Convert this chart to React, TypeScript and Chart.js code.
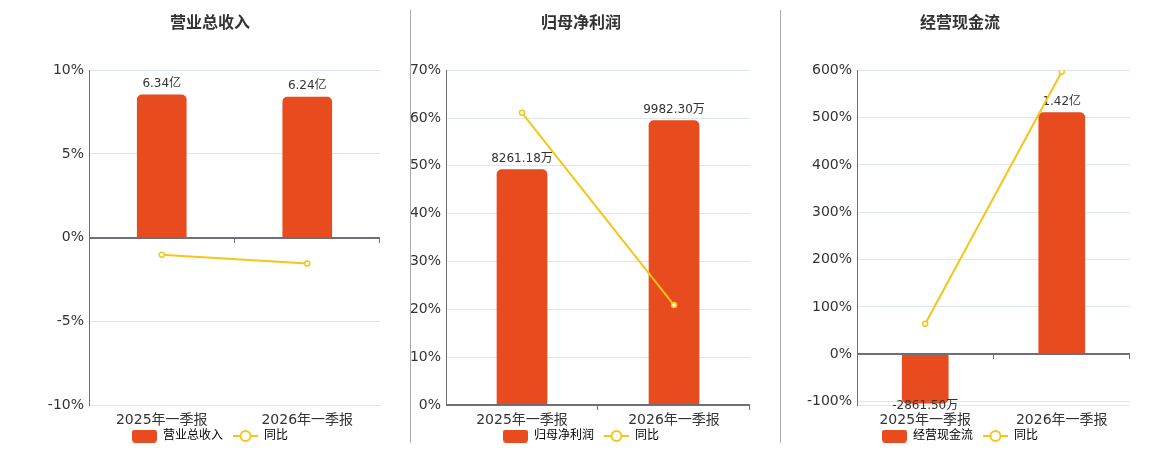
import React, { useEffect, useRef } from 'react';
import { Chart, registerables } from 'chart.js';

Chart.register(...registerables);

const FONT = '"DejaVu Sans", "Noto Sans CJK SC", sans-serif';
Chart.defaults.font.family = FONT;

// 报告期
const categories = ['2025年一季报', '2026年一季报'];

// 营业总收入 (万元) / 同比 (%)
const revenueValues = [63400, 62400];
const revenueYoY = [-1.03, -1.55];
const revenueTicks = [-10, -5, 0, 5, 10];

// 归母净利润 (万元) / 同比 (%)
const profitValues = [8261.18, 9982.3];
const profitYoY = [61.1, 20.9];
const profitTicks = [0, 10, 20, 30, 40, 50, 60, 70];

// 经营现金流 (万元) / 同比 (%)
const cashValues = [-2861.5, 14200];
const cashYoY = [64.7, 596.6];
const cashTicks = [-100, 0, 100, 200, 300, 400, 500, 600];

const BAR = '#E84B1E';
const LINE = '#F5C518';
const GRID = '#E0E6F1';
const AXIS = '#6E7079';
const TEXT = '#333';

function fmt(v: number) {
  return Math.abs(v) >= 10000 ? (v / 10000).toFixed(2) + '亿' : v.toFixed(2) + '万';
}

function barIcon() {
  const c = document.createElement('canvas');
  c.width = 25;
  c.height = 13;
  const ctx = c.getContext('2d')!;
  ctx.fillStyle = BAR;
  ctx.beginPath();
  ctx.roundRect(0, 0, 25, 13, 3);
  ctx.fill();
  return c;
}

function lineIcon() {
  const c = document.createElement('canvas');
  c.width = 25;
  c.height = 14;
  const ctx = c.getContext('2d')!;
  ctx.strokeStyle = LINE;
  ctx.lineWidth = 2;
  ctx.beginPath();
  ctx.moveTo(0, 7);
  ctx.lineTo(25, 7);
  ctx.stroke();
  ctx.beginPath();
  ctx.arc(12.5, 7, 5, 0, Math.PI * 2);
  ctx.fillStyle = '#fff';
  ctx.fill();
  ctx.stroke();
  return c;
}

// 柱顶数值
const barLabels = {
  id: 'barLabels',
  afterDatasetDraw(chart: any, args: any) {
    if (args.meta.type !== 'bar') return;
    const ctx = chart.ctx;
    const data = chart.data.datasets[args.index].data as number[];
    ctx.save();
    ctx.font = '12px ' + FONT;
    ctx.fillStyle = TEXT;
    ctx.textAlign = 'center';
    args.meta.data.forEach((el: any, i: number) => {
      const v = data[i];
      if (v >= 0) {
        ctx.textBaseline = 'bottom';
        ctx.fillText(fmt(v), el.x, el.y - 5);
      } else {
        ctx.textBaseline = 'top';
        ctx.fillText(fmt(v), el.x, el.y - 3);
      }
    });
    ctx.restore();
  },
};

// 零值轴线、刻度和类目标签
const zeroAxis = {
  id: 'zeroAxis',
  afterDatasetsDraw(chart: any) {
    const { ctx, chartArea } = chart;
    const xs = chart.scales.x;
    const y = Math.round(chart.scales.y.getPixelForValue(0));
    const n = chart.data.labels.length;
    const step = (chartArea.right - chartArea.left) / n;
    ctx.save();
    ctx.strokeStyle = AXIS;
    ctx.lineWidth = 2;
    ctx.beginPath();
    ctx.moveTo(chartArea.left, y);
    ctx.lineTo(chartArea.right, y);
    ctx.stroke();
    ctx.lineWidth = 1;
    ctx.beginPath();
    for (let i = 1; i <= n; i++) {
      const x = Math.round(chartArea.left + i * step) - 0.5;
      ctx.moveTo(x, y);
      ctx.lineTo(x, y + 5);
    }
    ctx.stroke();
    ctx.font = '14px ' + FONT;
    ctx.fillStyle = TEXT;
    ctx.textAlign = 'center';
    ctx.textBaseline = 'middle';
    chart.data.labels.forEach((lab: string, i: number) => {
      ctx.fillText(lab, xs.getPixelForValue(i), chartArea.bottom + 15);
    });
    ctx.restore();
  },
};

interface PanelProps {
  title: string;
  values: number[];
  yoy: number[];
  ticks: number[];
  pctMin: number;
  pctMax: number;
  barMin: number;
  barMax: number;
  left: number;
  innerWidth: number;
  axisWidth: number;
  rightGap: number;
  barThickness: number;
}

const Panel: React.FC<PanelProps> = (p) => {
  const ref = useRef<HTMLCanvasElement>(null);

  useEffect(() => {
    if (!ref.current) return;
    const tickValues = p.pctMin < p.ticks[0] ? [p.pctMin, ...p.ticks] : p.ticks;
    const chart = new Chart(ref.current, {
      type: 'bar',
      data: {
        labels: categories,
        datasets: [
          {
            type: 'bar',
            label: p.title,
            data: p.values,
            yAxisID: 'y1',
            backgroundColor: BAR,
            barThickness: p.barThickness,
            borderRadius: 5,
            order: 1,
          },
          {
            type: 'line',
            label: '同比',
            data: p.yoy,
            yAxisID: 'y',
            borderColor: LINE,
            borderWidth: 2,
            pointRadius: 2.5,
            pointBorderWidth: 1.5,
            pointBackgroundColor: '#fff',
            pointBorderColor: LINE,
            order: 0,
          } as any,
        ],
      },
      options: {
        animation: false,
        responsive: false,
        layout: { padding: { left: 20, right: 10, top: 0, bottom: 0 } },
        plugins: {
          title: {
            display: true,
            text: p.title,
            color: TEXT,
            font: { size: 16, weight: 'bold' },
            padding: { top: 14, bottom: 37 },
          },
          legend: {
            position: 'bottom',
            labels: {
              usePointStyle: true,
              pointStyleWidth: 25,
              boxHeight: 13,
              color: TEXT,
              font: { size: 12 },
              padding: 10,
              generateLabels: () => [
                { text: p.title, pointStyle: barIcon(), fillStyle: BAR, strokeStyle: BAR, lineWidth: 0, hidden: false, datasetIndex: 0 },
                { text: '同比', pointStyle: lineIcon(), fillStyle: LINE, strokeStyle: LINE, lineWidth: 0, hidden: false, datasetIndex: 1 },
              ] as any,
            },
          },
          tooltip: { enabled: false },
        },
        scales: {
          x: {
            offset: true,
            grid: { display: false, drawTicks: false },
            border: { display: false },
            ticks: { display: false },
            afterFit: (s: any) => {
              s.height = 15;
            },
          },
          y: {
            position: 'left',
            min: p.pctMin,
            max: p.pctMax,
            afterBuildTicks: (s: any) => {
              s.ticks = tickValues.map((v) => ({ value: v }));
            },
            afterFit: (s: any) => {
              s.width = p.axisWidth;
            },
            grid: {
              drawTicks: false,
              color: (c: any) => (c.tick && c.tick.value === 0 ? 'rgba(0,0,0,0)' : GRID),
            },
            border: { display: true, color: AXIS, width: 1 },
            ticks: {
              color: TEXT,
              font: { size: 14 },
              padding: 5,
              callback: (v: any) => (p.ticks.includes(Number(v)) ? v + '%' : ''),
            },
          },
          y1: {
            position: 'right',
            min: p.barMin,
            max: p.barMax,
            grid: { display: false, drawTicks: false },
            border: { display: false },
            ticks: { display: false },
            afterFit: (s: any) => {
              s.width = p.rightGap;
            },
          },
        },
      },
      plugins: [barLabels, zeroAxis],
    });
    return () => chart.destroy();
  }, [p]);

  const width = p.innerWidth + 30;
  return (
    <div style={{ position: 'absolute', left: p.left - 20, top: 0 }}>
      <canvas ref={ref} width={width} height={452} style={{ width, height: 452, display: 'block' }} />
    </div>
  );
};

const panels: PanelProps[] = [
  {
    title: '营业总收入', values: revenueValues, yoy: revenueYoY, ticks: revenueTicks,
    pctMin: -10, pctMax: 10, barMin: -74330, barMax: 74330,
    left: 40, innerWidth: 340, axisWidth: 49, rightGap: 0, barThickness: 49,
  },
  {
    title: '归母净利润', values: profitValues, yoy: profitYoY, ticks: profitTicks,
    pctMin: 0, pctMax: 70, barMin: 0, barMax: 11748,
    left: 410, innerWidth: 342, axisWidth: 36, rightGap: 2, barThickness: 50,
  },
  {
    title: '经营现金流', values: cashValues, yoy: cashYoY, ticks: cashTicks,
    pctMin: -107, pctMax: 600, barMin: -2975, barMax: 16685,
    left: 790, innerWidth: 340, axisWidth: 67, rightGap: 0, barThickness: 46,
  },
];

const sep = (x: number): React.CSSProperties => ({
  position: 'absolute', left: x, top: 10, width: 1, height: 433, background: '#aaa',
});

export default function App() {
  return (
    <div style={{ position: 'absolute', left: 0, top: 0, width: 1160, height: 450, overflow: 'hidden', background: '#fff' }}>
      {panels.map((p) => (
        <Panel key={p.title} {...p} />
      ))}
      <div style={sep(410)} />
      <div style={sep(780)} />
    </div>
  );
}
